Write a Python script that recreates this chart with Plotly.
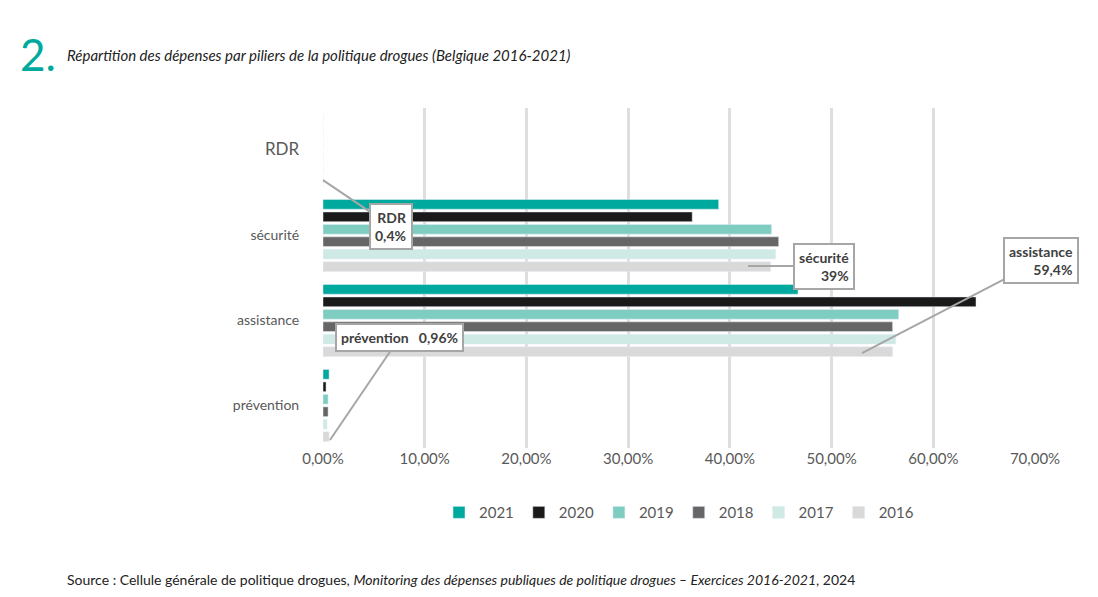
import plotly.graph_objects as go

categories = ["prévention", "assistance", "sécurité", "RDR"]
years = ["2016", "2017", "2018", "2019", "2020", "2021"]
values = {
    "2021": [0.006, 0.467, 0.389, 0.0],
    "2020": [0.003, 0.642, 0.363, 0.0],
    "2019": [0.005, 0.566, 0.441, 0.0],
    "2018": [0.005, 0.560, 0.448, 0.0],
    "2017": [0.004, 0.563, 0.445, 0.0],
    "2016": [0.006, 0.560, 0.440, 0.0],
}
colors = {"2021": "#00a99d", "2020": "#1a1a1a", "2019": "#7fcdc1",
          "2018": "#666666", "2017": "#cfeae4", "2016": "#d9d9d9"}
xticks = [0, 0.1, 0.2, 0.3, 0.4, 0.5, 0.6, 0.7]
xticklabels = ["0,00%", "10,00%", "20,00%", "30,00%", "40,00%", "50,00%", "60,00%", "70,00%"]
ylabels = ["prévention", "assistance", "sécurité", "<span style='font-size:17px'>RDR</span>"]

fig = go.Figure()
for y in years:
    fig.add_trace(go.Bar(y=categories, x=values[y], name=y, orientation="h",
                         marker_color=colors[y]))

fig.update_layout(
    width=1098, height=597, plot_bgcolor="white", paper_bgcolor="white",
    barmode="group", bargap=0.12, bargroupgap=0.22,
    margin=dict(l=315, r=71, t=100, b=157),
    font=dict(family="Lato", color="#595959", size=14),
    legend=dict(orientation="h", traceorder="reversed", x=0.5, xanchor="center",
                y=-0.19, yanchor="middle", font=dict(size=15)),
    xaxis=dict(range=[0, 0.7], tickvals=xticks, ticktext=xticklabels,
               showgrid=True, gridcolor="#dedede", gridwidth=2.5, zeroline=False,
               tickfont=dict(size=15)),
    yaxis=dict(tickvals=categories, ticktext=ylabels, ticks="outside",
               ticklen=0, showline=False, ticklabelstandoff=20),
)
fig.add_annotation(xref="paper", yref="paper", x=-0.428, y=1.16, text="2.",
                   showarrow=False, font=dict(size=44, color="#00a99d"), xanchor="left",
                   yanchor="middle")
fig.add_annotation(xref="paper", yref="paper", x=-0.362, y=1.155,
                   text="<i>Répartition des dépenses par piliers de la politique drogues (Belgique 2016-2021)</i>",
                   showarrow=False, font=dict(size=15, color="#222"), xanchor="left",
                   yanchor="middle")
fig.add_annotation(xref="paper", yref="paper", x=-0.362, y=-0.388,
                   text="Source : Cellule générale de politique drogues, <i>Monitoring des dépenses publiques de politique drogues – Exercices 2016-2021</i>, 2024",
                   showarrow=False, font=dict(size=14, color="#222"), xanchor="left",
                   yanchor="middle")

callouts = [
    ("<b>RDR</b><br><b>0,4%</b>", 0.0, 0.788, 68, 46),
    ("<b>sécurité</b><br><b>39%</b>", 0.597, 0.535, 76, 0),
    ("<b>assistance</b><br><b>59,4%</b>", 0.757, 0.279, 179, -93),
    ("<b>prévention   0,96%</b>", 0.0098, 0.0235, 70, -103),
]
for txt, x, y, ax, ay in callouts:
    fig.add_annotation(xref="paper", yref="paper", x=x, y=y, ax=ax, ay=ay,
                       text=txt, showarrow=True, arrowhead=0, arrowwidth=2,
                       arrowcolor="#a6a6a6", bordercolor="#a6a6a6", borderwidth=2,
                       bgcolor="white", borderpad=4, align="right",
                       font=dict(size=14, color="#404040"))
fig.write_html("out.html")
